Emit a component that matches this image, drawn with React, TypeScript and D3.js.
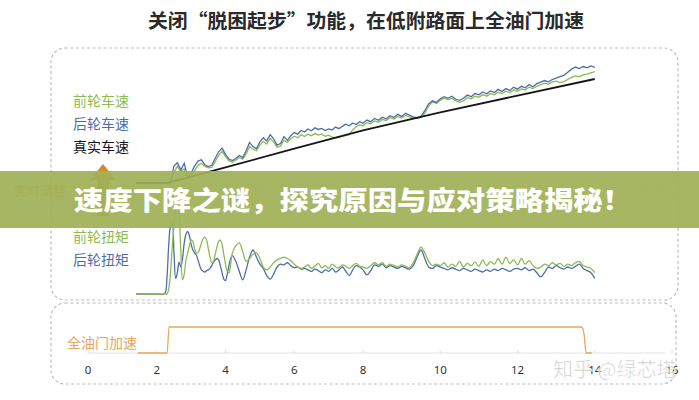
import React from "react";
import * as d3 from "d3";

// ---------- data ----------
const xTicks = [0, 2, 4, 6, 8, 10, 12, 14, 16];

// speed series sampled every 0.1 s starting at 1.4 s
const speedStart = 1.4;
const speedStep = 0.1;
const rearSpeed = [
  0, 0, 0, 0, 0, 0, 0, 0, 0, 0,
  0.3, 6.5, 7.8, 5.0, 7.6, 2.2, 3.8, 6.5, 8.4, 8.9,
  7.0, 6.3, 6.8, 9.5, 12.0, 13.4, 11.0, 9.2, 8.6, 9.4,
  10.6, 9.8, 12.4, 15.6, 14.0, 13.2, 15.8, 17.4, 16.2, 18.6,
  17.0, 14.6, 15.2, 17.8, 16.4, 18.2, 19.4, 18.8, 20.2, 19.6,
  20.8, 20.1, 21.2, 20.6, 21.0, 20.2, 20.8, 20.4, 21.5, 20.9,
  21.8, 22.6, 22.0, 23.1, 22.5, 23.6, 23.0, 24.2, 23.6, 24.8,
  24.1, 25.3, 24.7, 25.9, 25.2, 26.4, 25.6, 26.8, 26.1, 25.4,
  25.0, 25.6, 27.8, 30.5, 31.6, 31.0, 32.4, 33.2, 32.6, 33.4,
  32.2, 31.8, 32.6, 33.8, 33.2, 34.4, 33.9, 35.0, 34.3, 35.4,
  34.8, 36.0, 35.2, 36.3, 35.6, 36.8, 36.1, 37.2, 36.6, 37.9,
  37.0, 38.2, 38.8, 39.4, 38.9, 39.8, 40.3, 40.9, 41.4, 42.6,
  43.8, 44.6, 44.0, 44.8, 44.3, 45.0, 44.5,
];
const frontSpeed = [
  0, 0, 0, 0, 0, 0, 0, 0, 0, 0,
  0.2, 4.0, 6.5, 4.5, 5.5, 1.8, 2.5, 4.8, 6.8, 7.6,
  6.4, 5.8, 6.0, 8.2, 10.6, 12.2, 10.2, 8.6, 8.0, 8.8,
  9.8, 9.2, 11.2, 14.0, 13.0, 12.4, 14.6, 16.0, 15.0, 17.2,
  15.8, 13.8, 14.2, 16.4, 15.6, 17.0, 18.0, 17.4, 18.6, 17.9,
  18.8, 18.2, 19.0, 18.4, 18.8, 18.0, 18.4, 17.6, 17.4, 17.6,
  17.9, 18.3, 18.6, 20.4, 21.6, 22.4, 22.0, 23.2, 22.8, 23.9,
  23.4, 24.5, 24.0, 25.1, 24.6, 25.6, 25.0, 26.0, 25.4, 25.0,
  24.9, 25.3, 26.8, 29.6, 31.2, 30.6, 31.8, 32.6, 32.0, 32.6,
  31.6, 31.0, 31.6, 32.8, 32.4, 33.4, 33.0, 34.0, 33.4, 34.4,
  33.9, 34.9, 34.4, 35.3, 34.8, 35.8, 35.3, 36.2, 35.8, 36.9,
  36.3, 37.2, 37.8, 38.4, 38.0, 38.9, 39.2, 38.6, 39.0, 39.8,
  40.6, 41.2, 40.8, 41.6, 41.9, 42.4, 42.8,
];
const realSpeedTimes = [1.4, 2.3, 4, 6, 8, 10, 12, 14.0];
const realSpeed = [0, 0, 6, 13.2, 20.2, 27.2, 33.6, 40];

// torque: 1.4, 1.8, then 2.20..4.20 every 0.05 s, then 4.3..14.0 every 0.1 s
const torqueTimes = [
  1.4,
  1.8,
  ...d3.range(0, 41).map((i) => 2.2 + i * 0.05),
  ...d3.range(1, 99).map((i) => 4.2 + i * 0.1),
];
const rearTorque = [
  0, 0,
  0, 2, 25, 70, 95, 99, 60, 22, 30, 45,
  38, 50, 72, 84, 88, 82, 70, 62, 58, 55,
  48, 40, 34, 32, 31, 33, 34, 36, 40, 45,
  48, 50, 48, 40, 30, 21, 19, 28, 40, 50,
  54,
  46, 32, 20, 34, 52, 62, 52, 42, 36, 26,
  21, 28, 38, 42, 41, 44, 40, 37, 38, 35,
  36, 34, 32, 35, 33, 30, 34, 32, 36, 31,
  34, 38, 32, 26, 34, 40, 38, 34, 27, 33,
  41, 39, 42, 37, 40, 38, 36, 39, 37, 35,
  40, 52, 62, 50, 38, 36, 40, 38, 36, 34,
  37, 35, 33, 36, 34, 32, 35, 33, 31, 34,
  32, 35, 33, 36, 34, 32, 35, 36, 34, 37,
  33, 35, 30, 24, 30, 38, 36, 40, 37, 35,
  38, 36, 39, 42, 36, 33, 30, 22,
];
const frontTorque = [
  0, 0,
  0, 0, 0, 8, 30, 65, 95, 118, 125, 110,
  60, 20, 28, 48, 58, 68, 76, 74, 64, 58,
  58, 64, 72, 78, 80, 76, 64, 52, 44, 46,
  56, 66, 74, 76, 70, 56, 42, 32, 30, 42,
  58,
  68, 72, 60, 46, 50, 56, 58, 50, 38, 34,
  38, 44, 48, 50, 52, 50, 47, 42, 38, 36,
  38, 41, 36, 39, 43, 37, 40, 36, 42, 38,
  37, 41, 39, 36, 40, 43, 39, 38, 36, 40,
  44, 41, 44, 39, 42, 40, 38, 41, 39, 37,
  44, 56, 66, 58, 46, 40, 42, 40, 44, 38,
  42, 39, 46, 38, 43, 40, 45, 39, 48, 40,
  46, 42, 50, 42, 52, 43, 48, 41, 50, 42,
  47, 40, 36, 38, 42, 40, 44, 41, 43, 39,
  42, 40, 44, 46, 40, 38, 36, 30,
];

const throttleTimes = [1.45, 2.3, 2.36, 13.66, 13.72, 13.78, 13.92];
const throttle = [0, 0, 1, 1, 0.75, 0, 0];

const speedLegend = ["前轮车速", "后轮车速", "真实车速"];
const torqueLegend = ["前轮扭矩", "后轮扭矩"];
const throttleLegend = "全油门加速";
const title = "关闭“脱困起步”功能，在低附路面上全油门加速";
const bannerText = "速度下降之谜，探究原因与应对策略揭秘！";
const sideLabel = "实时调整";
const watermark = "知乎 @绿芯塔";

// ---------- styles ----------
const W = 699;
const H = 400;
const GREEN = "#8cbb52";
const BLUE = "#4f6ea8";
const BLACK = "#161616";
const ORANGE = "#e7a65a";
const CJK = "'Noto Sans CJK SC', 'Noto Sans', sans-serif";

export default function App() {
  const x = d3.scaleLinear().domain([0, 8, 16]).range([88, 363, 672]);
  const ySpeed = d3.scaleLinear().domain([0, 40]).range([183, 79]);
  const yTorque = d3.scaleLinear().domain([0, 100]).range([294, 223]);
  const yThrottle = d3.scaleLinear().domain([0, 1]).range([353, 327]);

  const speedTimes = rearSpeed.map((_, i) => speedStart + i * speedStep);

  const speedLine = d3
    .line<number>()
    .x((_, i) => x(speedTimes[i]))
    .y((d) => ySpeed(d))
    .curve(d3.curveLinear);
  const realLine = d3
    .line<number>()
    .x((_, i) => x(realSpeedTimes[i]))
    .y((d) => ySpeed(d));
  const torqueLine = d3
    .line<number>()
    .x((_, i) => x(torqueTimes[i]))
    .y((d) => yTorque(d))
    .curve(d3.curveCatmullRom.alpha(0.5));
  const throttleLine = d3
    .line<number>()
    .x((_, i) => x(throttleTimes[i]))
    .y((d) => yThrottle(d))
    .curve(d3.curveMonotoneX);

  const dash = { stroke: "#bdbdbd", strokeWidth: 1.2, strokeDasharray: "3 2.5", fill: "none" };

  return (
    <svg
      width={W}
      height={H}
      viewBox={`0 0 ${W} ${H}`}
      style={{ position: "absolute", left: 0, top: 0, background: "#fff", display: "block" }}
    >
      <rect x={0} y={0} width={W} height={H} fill="#fff" />

      {/* title */}
      <text
        x={366}
        y={28}
        textAnchor="middle"
        fontFamily={CJK}
        fontSize={19.5}
        fontWeight={700}
        fill="#2a2a2a"
        textLength={436}
        lengthAdjust="spacingAndGlyphs"
      >
        {title}
      </text>

      {/* dashed panels */}
      <rect x={51} y={48} width={627} height={252} rx={14} {...dash} />
      <line x1={60} x2={670} y1={186} y2={186} {...dash} />
      <rect x={51} y={303} width={625} height={81} rx={14} {...dash} />

      {/* speed legend */}
      {speedLegend.map((t, i) => (
        <text
          key={t}
          x={73}
          y={106 + i * 23}
          fontFamily={CJK}
          fontSize={14}
          fill={[GREEN, BLUE, BLACK][i]}
        >
          {t}
        </text>
      ))}

      {/* speed lines */}
      <path d={speedLine(frontSpeed) || ""} fill="none" stroke={GREEN} strokeWidth={1.3} />
      <path d={speedLine(rearSpeed) || ""} fill="none" stroke={BLUE} strokeWidth={1.3} />
      <path d={realLine(realSpeed) || ""} fill="none" stroke={BLACK} strokeWidth={1.8} />

      {/* side label + arrow */}
      <text x={14} y={195} fontFamily={CJK} fontSize={13} fill="#d9983f">
        {sideLabel}
      </text>
      <path d="M103,164 L116,180 L109,180 L109,216 L97,216 L97,180 L90,180 Z" fill="#cf8a2c" />

      {/* torque legend */}
      {torqueLegend.map((t, i) => (
        <text
          key={t}
          x={73}
          y={242 + i * 23}
          fontFamily={CJK}
          fontSize={14}
          fill={[GREEN, BLUE][i]}
        >
          {t}
        </text>
      ))}

      {/* torque lines */}
      <path d={torqueLine(rearTorque) || ""} fill="none" stroke={BLUE} strokeWidth={1.3} />
      <path d={torqueLine(frontTorque) || ""} fill="none" stroke={GREEN} strokeWidth={1.3} />

      {/* throttle */}
      <text x={67} y={348} fontFamily={CJK} fontSize={14} fill={ORANGE}>
        {throttleLegend}
      </text>
      <line x1={x(0)} x2={665} y1={353} y2={353} stroke="#e3e3e3" strokeWidth={1} />
      {xTicks.map((t) => (
        <line key={"tk" + t} x1={x(t)} x2={x(t)} y1={350} y2={353} stroke="#dcdcdc" />
      ))}
      <path d={throttleLine(throttle) || ""} fill="none" stroke={ORANGE} strokeWidth={1.3} />
      {xTicks.map((t) => (
        <text
          key={"lb" + t}
          x={x(t)}
          y={374}
          textAnchor="middle"
          fontFamily="'Noto Sans', sans-serif"
          fontSize={11.5}
          fill="#333"
        >
          {t}
        </text>
      ))}

      {/* watermark */}
      <text
        x={553}
        y={377}
        fontFamily={CJK}
        fontSize={20}
        fill="#c4c4c4"
        stroke="#fff"
        strokeWidth={0.6}
        opacity={0.9}
      >
        {watermark}
      </text>

      {/* banner */}
      <rect x={0} y={171} width={W} height={57} fill="#a0b057" opacity={0.93} />
      <text
        x={353}
        y={210}
        textAnchor="middle"
        fontFamily={CJK}
        fontSize={26}
        fontWeight={900}
        fill="#fff"
        textLength={558}
        lengthAdjust="spacingAndGlyphs"
      >
        {bannerText}
      </text>
    </svg>
  );
}
